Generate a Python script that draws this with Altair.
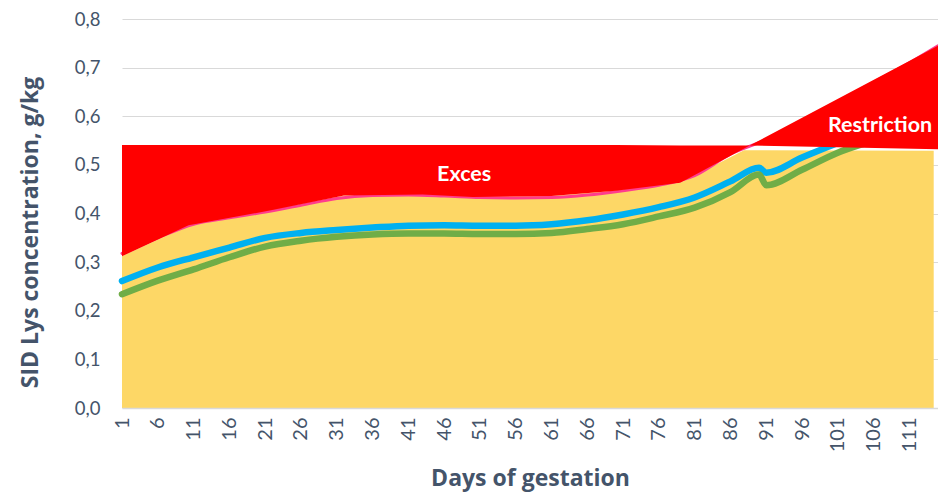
import altair as alt
import pandas as pd

# ---- data ----
yellow_days = [1, 10.3, 22, 32, 43, 50, 61, 70, 79, 87.9, 114.4]
yellow_top = [0.312, 0.376, 0.407, 0.437, 0.439, 0.434, 0.436, 0.447, 0.463, 0.530, 0.529]

red_days = [1, 10.3, 22, 32, 43, 50, 61, 70, 79, 88.7, 115]
red_low = [0.312, 0.376, 0.407, 0.437, 0.439, 0.434, 0.436, 0.447, 0.463, 0.540, 0.532]
red_high = [0.541, 0.541, 0.541, 0.541, 0.541, 0.541, 0.541, 0.541, 0.540, 0.540, 0.745]

pink_days = [1, 6, 11, 16, 21, 26, 31, 36, 41, 46, 51, 56, 61, 66, 71, 76, 81, 86, 91, 96, 101, 106, 111, 115]
pink_vals = [0.318, 0.350, 0.378, 0.391, 0.403, 0.417, 0.431, 0.437, 0.438, 0.436, 0.433, 0.432, 0.433,
             0.438, 0.447, 0.458, 0.478, 0.522, 0.552, 0.590, 0.630, 0.670, 0.710, 0.745]

line_days = [1, 6, 11, 16, 21, 26, 31, 36, 41, 46, 51, 56, 61, 66, 71, 76, 81, 86, 90, 91, 96, 101, 106, 111, 115]
blue_vals = [0.261, 0.289, 0.310, 0.330, 0.350, 0.360, 0.366, 0.371, 0.375, 0.376, 0.375, 0.375,
             0.378, 0.386, 0.398, 0.413, 0.433, 0.466, 0.494, 0.484, 0.515, 0.545, 0.570, 0.595, 0.615]
green_vals = [0.234, 0.262, 0.285, 0.310, 0.332, 0.344, 0.352, 0.357, 0.359, 0.359, 0.358, 0.358,
              0.360, 0.368, 0.378, 0.394, 0.412, 0.444, 0.480, 0.458, 0.490, 0.525, 0.550, 0.575, 0.595]

label_texts = ["Exces", "Restriction"]
label_days = [48.8, 106.9]
label_vals = [0.479, 0.580]

x_ticks = list(range(1, 112, 5))

FONT = "Lato"
TFONT = "Open Sans"
TXT = "#44546A"

yellow_df = pd.DataFrame({"day": yellow_days, "value": yellow_top})
red_df = pd.DataFrame({"day": red_days, "lo": red_low, "hi": red_high})
pink_df = pd.DataFrame({"day": pink_days, "value": pink_vals})
lines_df = pd.DataFrame({"day": line_days, "blue": blue_vals, "green": green_vals})
lab_df = pd.DataFrame({"day": label_days, "value": label_vals, "text": label_texts})

x_scale = alt.Scale(domain=[1, 115], nice=False, zero=False)
y_scale = alt.Scale(domain=[0, 0.8], nice=False)

x_axis = alt.Axis(values=x_ticks, labelAngle=-90, grid=False, ticks=False,
                  domainColor="#D9D9D9", domainWidth=1.5, labelFontSize=20,
                  labelColor=TXT, labelFont=FONT, labelPadding=9,
                  title="Days of gestation", titleFont=TFONT, titleFontSize=23,
                  titleFontWeight="bold", titleColor=TXT, titleY=77,
                  titleBaseline="alphabetic", zindex=1, labelFlush=False)
y_axis = alt.Axis(values=[i / 10 for i in range(9)], grid=True, gridColor="#D9D9D9",
                  gridWidth=1, domain=False, ticks=False, labelFontSize=18.5,
                  labelColor=TXT, labelFont=FONT, labelPadding=22,
                  labelExpr="replace(format(datum.value, '.1f'), '.', ',')",
                  title="SID Lys concentration, g/kg", titleFont=TFONT, titleFontSize=23,
                  titleFontWeight="bold", titleColor=TXT, titleX=-92, titleY=213,
                  titleAngle=-90, titleAlign="center", titleBaseline="middle")

X = alt.X("day:Q", scale=x_scale, axis=x_axis)

yellow = alt.Chart(yellow_df).mark_area(color="#FDD766", opacity=1).encode(
    x=X, y=alt.Y("value:Q", scale=y_scale, axis=y_axis))

pink = alt.Chart(pink_df).mark_line(color="#FF3C8E", strokeWidth=3, strokeCap="round",
                                    interpolate="monotone").encode(
    x=X, y=alt.Y("value:Q", scale=y_scale, axis=y_axis))

blue = alt.Chart(lines_df).mark_line(color="#00B0F0", strokeWidth=6.5, strokeCap="round",
                                     interpolate="monotone").encode(
    x=X, y=alt.Y("blue:Q", scale=y_scale, axis=y_axis))

green = alt.Chart(lines_df).mark_line(color="#70AD47", strokeWidth=6.5, strokeCap="round",
                                      interpolate="monotone").encode(
    x=X, y=alt.Y("green:Q", scale=y_scale, axis=y_axis))

red = alt.Chart(red_df).mark_area(color="#FF0000", opacity=1).encode(
    x=X, y=alt.Y("lo:Q", scale=y_scale, axis=y_axis), y2="hi:Q")

labels = alt.Chart(lab_df).mark_text(color="white", font=FONT, fontWeight="bold",
                                     fontSize=21.5, align="center", baseline="middle").encode(
    x=X, y=alt.Y("value:Q", scale=y_scale, axis=y_axis), text="text:N")

chart = alt.layer(yellow, pink, blue, green, red, labels).properties(
    width=816, height=389,
    autosize=alt.AutoSizeParams(type="none"),
    padding={"left": 114, "top": 11, "right": 0, "bottom": 85},
).configure_view(stroke=None)

chart.save("out.html", embed_options={"renderer": "svg", "actions": False})
